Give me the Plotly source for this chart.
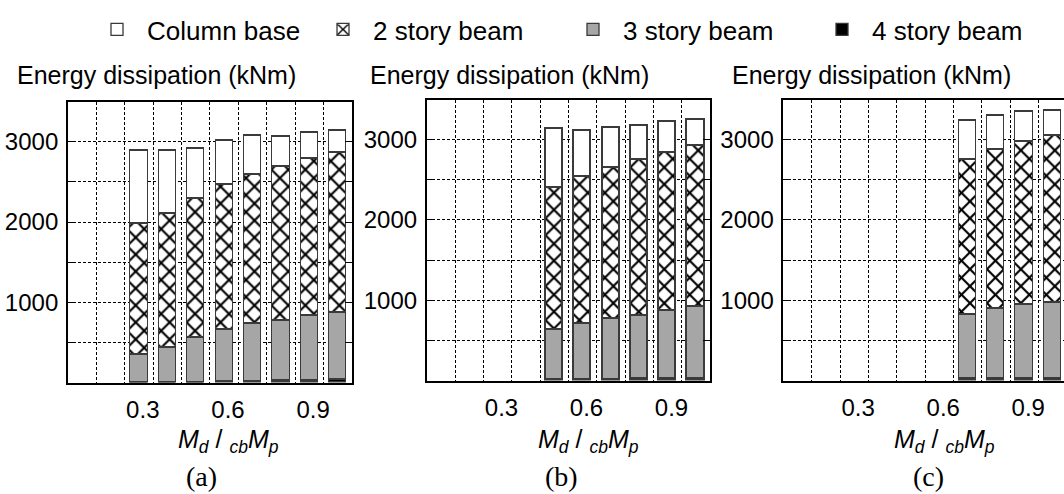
import plotly.graph_objects as go

# ---------------- data ----------------
series_names = ["4 story beam", "3 story beam", "2 story beam", "Column base"]

ratio_a = [0.3, 0.4, 0.5, 0.6, 0.7, 0.8, 0.9, 1.0]
a_beam4 = [0, 0, 5, 8, 15, 20, 25, 30]
a_beam3 = [344, 440, 559, 656, 715, 756, 809, 841]
a_beam2 = [1639, 1668, 1722, 1805, 1863, 1917, 1954, 1992]
a_colbase = [905, 780, 631, 543, 478, 369, 324, 278]

ratio_b = [0.5, 0.6, 0.7, 0.8, 0.9, 1.0]
b_beam4 = [15, 10, 15, 20, 30, 30]
b_beam3 = [624, 700, 753, 793, 841, 887]
b_beam2 = [1768, 1834, 1883, 1934, 1975, 2008]
b_colbase = [734, 572, 498, 427, 378, 332]

ratio_c = [0.7, 0.8, 0.9, 1.0]
c_beam4 = [25, 25, 25, 30]
c_beam3 = [796, 871, 917, 941]
c_beam2 = [1937, 1979, 2033, 2075]
c_colbase = [475, 429, 371, 317]

x_tick_vals = [0.3, 0.6, 0.9]
x_tick_text = ["0.3", "0.6", "0.9"]
y_tick_vals = [1000, 2000, 3000]
y_tick_text = ["1000", "2000", "3000"]
panel_labels = ["(a)", "(b)", "(c)"]

# ---------------- styling ----------------
W, H = 1064, 494
FONT = "Liberation Sans, Arial, sans-serif"
OUTLINE = dict(color="#3a3a3a", width=1.3)
styles = {
    "4 story beam": dict(color="#000000", line=OUTLINE),
    "3 story beam": dict(color="#a6a6a6", line=OUTLINE),
    "2 story beam": dict(color="#ffffff", line=OUTLINE,
                         pattern=dict(shape="x", fgcolor="#000000", bgcolor="#ffffff",
                                      size=12, solidity=0.32, fillmode="replace")),
    "Column base": dict(color="#ffffff", line=OUTLINE),
}
# each legend entry gets its own legend box so it can sit where the reference has it
legend_of = {"Column base": "legend", "2 story beam": "legend2",
             "3 story beam": "legend3", "4 story beam": "legend4"}
legend_x_px = {"legend": 87, "legend2": 313, "legend3": 563, "legend4": 812}

panels = [
    (ratio_a, [a_beam4, a_beam3, a_beam2, a_colbase]),
    (ratio_b, [b_beam4, b_beam3, b_beam2, b_colbase]),
    (ratio_c, [c_beam4, c_beam3, c_beam2, c_colbase]),
]

fig = go.Figure()
for i, (xs, vals) in enumerate(panels):
    suffix = "" if i == 0 else str(i + 1)
    for name, v in zip(series_names, vals):
        fig.add_trace(go.Bar(
            x=xs, y=v, name=name, marker=styles[name], width=0.061,
            xaxis="x" + suffix, yaxis="y" + suffix,
            legendgroup=name, showlegend=(i == 0), legend=legend_of[name],
        ))

# plot-area geometry (pixels)
x_dom_px = [(67.8, 351.8), (426.7, 710.0), (783.3, 1064.0)]
x_ranges = [[0.05, 1.05], [0.05, 1.05], [0.05, 0.05 + (1064 - 783.3) / 28.35 * 0.1]]
y_dom_px = [(101.7, 382.6), (99.5, 380.6), (99.5, 380.6)]

for i in range(3):
    suffix = "" if i == 0 else str(i + 1)
    xd = [x_dom_px[i][0] / W, x_dom_px[i][1] / W]
    yd = [1 - y_dom_px[i][1] / H, 1 - y_dom_px[i][0] / H]
    fig.layout["xaxis" + suffix] = dict(
        domain=xd, range=x_ranges[i], anchor="y" + suffix,
        tickmode="array", tickvals=x_tick_vals, ticktext=x_tick_text,
        showgrid=False, ticks="", ticklabelshift=4, ticklabelstandoff=5,
        showline=True, linecolor="#000000", linewidth=1.5, mirror=True,
        zeroline=False,
        minor=dict(tick0=0.05, dtick=0.1, showgrid=True, gridcolor="#000000",
                   gridwidth=1, griddash="3px,2px", ticks=""),
        tickfont=dict(family=FONT, size=24, color="#000000"),
    )
    fig.layout["yaxis" + suffix] = dict(
        domain=yd, range=[0, 3500], anchor="x" + suffix,
        tickmode="array", tickvals=y_tick_vals, ticktext=y_tick_text,
        showgrid=True, gridcolor="#000000", gridwidth=1, griddash="3px,2px",
        ticks="inside", ticklen=7, tickcolor="#000000", tickwidth=1.2,
        ticklabelstandoff=3,
        showline=True, linecolor="#000000", linewidth=1.5,
        mirror=("ticks" if i < 2 else False), zeroline=False,
        minor=dict(dtick=500, tick0=0, showgrid=True, gridcolor="#000000",
                   gridwidth=1, griddash="3px,2px", ticks="inside", ticklen=7,
                   tickcolor="#000000"),
        tickfont=dict(family=FONT, size=24, color="#000000"),
    )

annotations = []
title_left_px = [15, 368, 730]
xtitle_center_px = [228, 588, 944]
label_center_px = [201, 561, 928]
for i in range(3):
    annotations.append(dict(
        text="Energy dissipation (kNm)", x=title_left_px[i] / W, xref="paper",
        y=1 - 75 / H, yref="paper", xanchor="left", yanchor="middle",
        showarrow=False, font=dict(family=FONT, size=25, color="#000000")))
    annotations.append(dict(
        text="<i>M<sub>d</sub></i> / <sub><i>cb</i></sub><i>M<sub>p</sub></i>",
        x=xtitle_center_px[i] / W, xref="paper", y=1 - 441 / H, yref="paper",
        xanchor="center", yanchor="middle", showarrow=False,
        font=dict(family=FONT, size=25, color="#000000")))
    annotations.append(dict(
        text=panel_labels[i], x=label_center_px[i] / W, xref="paper",
        y=1 - 476 / H, yref="paper", xanchor="center", yanchor="middle",
        showarrow=False,
        font=dict(family="Liberation Serif, Times New Roman, serif", size=28,
                  color="#000000")))

legend_common = dict(orientation="h", y=1 - 6 / H, xanchor="left", yanchor="top",
                     itemwidth=50, font=dict(family=FONT, size=26, color="#000000"),
                     bgcolor="rgba(0,0,0,0)")
legends = {k: dict(legend_common, x=v / W) for k, v in legend_x_px.items()}

fig.update_layout(
    width=W, height=H, margin=dict(l=0, r=0, t=0, b=0),
    paper_bgcolor="#ffffff", plot_bgcolor="#ffffff",
    barmode="stack", bargap=0,
    annotations=annotations,
    **legends,
)

fig.write_html("out.html")
